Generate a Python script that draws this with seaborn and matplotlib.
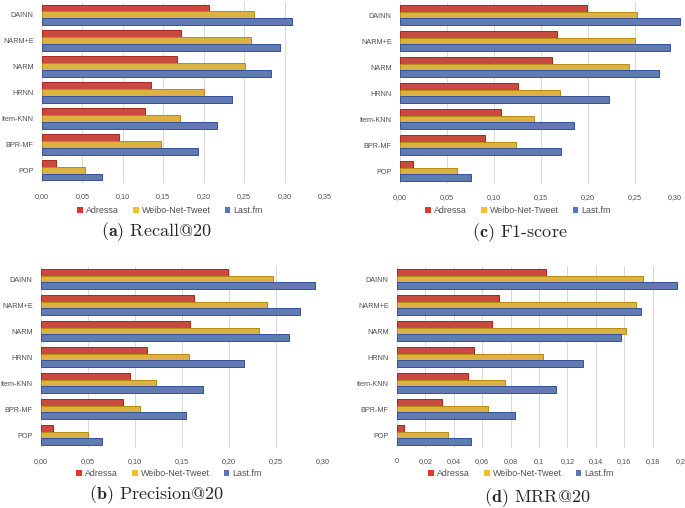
import pandas as pd
import matplotlib.pyplot as plt
import seaborn as sns
from matplotlib.patches import Patch
from matplotlib.ticker import FixedLocator

models = ['DAINN', 'NARM+E', 'NARM', 'HRNN', 'Item-KNN', 'BPR-MF', 'POP']
datasets = ['Adressa', 'Weibo-Net-Tweet', 'Last.fm']
colors = ['#E1362A', '#F5BF2A', '#5475BE']
edges = ['#A8261C', '#B88C12', '#34509A']

# values (model order as above)
recall_adressa = [0.207, 0.172, 0.167, 0.135, 0.128, 0.095, 0.017]
recall_weibo = [0.262, 0.258, 0.251, 0.200, 0.171, 0.147, 0.053]
recall_lastfm = [0.309, 0.294, 0.283, 0.235, 0.216, 0.193, 0.074]

precision_adressa = [0.199, 0.163, 0.158, 0.113, 0.095, 0.087, 0.013]
precision_weibo = [0.247, 0.240, 0.232, 0.157, 0.122, 0.105, 0.050]
precision_lastfm = [0.292, 0.276, 0.264, 0.216, 0.172, 0.154, 0.065]

f1_adressa = [0.199, 0.167, 0.162, 0.125, 0.107, 0.090, 0.014]
f1_weibo = [0.252, 0.250, 0.244, 0.170, 0.143, 0.123, 0.061]
f1_lastfm = [0.298, 0.287, 0.276, 0.222, 0.185, 0.171, 0.076]

mrr_adressa = [0.105, 0.072, 0.067, 0.054, 0.050, 0.032, 0.005]
mrr_weibo = [0.173, 0.168, 0.161, 0.103, 0.076, 0.064, 0.036]
mrr_lastfm = [0.197, 0.172, 0.158, 0.131, 0.112, 0.083, 0.052]

ticks_030 = [0, 0.05, 0.10, 0.15, 0.20, 0.25, 0.30]
labels_030 = ['0,00', '0,05', '0,10', '0,15', '0,20', '0,25', '0,30']
ticks_035 = ticks_030 + [0.35]
labels_035 = labels_030 + ['0,35']
ticks_mrr = [0, 0.02, 0.04, 0.06, 0.08, 0.1, 0.12, 0.14, 0.16, 0.18, 0.2]
labels_mrr = ['0', '0,02', '0,04', '0,06', '0,08', '0,1', '0,12', '0,14', '0,16', '0,18', '0,2']

W, H = 685, 508


def make_df(a, w, l):
    rows = []
    for vals, name in zip([a, w, l], datasets):
        for m, v in zip(models, vals):
            rows.append({'model': m, 'dataset': name, 'value': v})
    return pd.DataFrame(rows)


def panel(fig, box, df, ticks, labels, legend_c, caption, caption_c, last_right=False):
    left, right, top, bottom = box
    ax = fig.add_axes([left / W, 1 - bottom / H, (right - left) / W, (bottom - top) / H])
    sns.barplot(data=df, y='model', x='value', hue='dataset', order=models,
                hue_order=datasets, palette=colors, orient='h', width=0.8,
                gap=0, legend=False, ax=ax, zorder=3)
    for cont, ec in zip(ax.containers, edges):
        for bar in cont:
            bar.set_edgecolor(ec)
            bar.set_linewidth(0.7)
    ax.set_xlim(0, ticks[-1])
    ax.set_ylim(6.5, -0.5)
    ax.xaxis.set_major_locator(FixedLocator(ticks))
    ax.set_xticklabels(labels)
    if last_right:
        ax.get_xticklabels()[-1].set_horizontalalignment('right')
    ax.grid(axis='x', color='#D9D9D9', linewidth=0.7, zorder=0)
    ax.grid(axis='y', visible=False)
    for s in ax.spines.values():
        s.set_visible(False)
    ax.tick_params(axis='both', length=0, labelsize=5.2, labelcolor='#4F4F4F')
    ax.tick_params(axis='x', pad=7)
    ax.tick_params(axis='y', pad=6)
    ax.set_xlabel('')
    ax.set_ylabel('')
    handles = [Patch(facecolor=c, edgecolor='none') for c in colors]
    ax.legend(handles, datasets, loc='center', ncol=3, frameon=False,
              bbox_to_anchor=(legend_c[0] / W, 1 - legend_c[1] / H),
              bbox_transform=fig.transFigure, fontsize=6.4,
              handlelength=0.65, handleheight=0.65, handletextpad=0.3,
              columnspacing=1.6, labelcolor='#4F4F4F')
    fig.text(caption_c[0] / W, 1 - caption_c[1] / H, caption, ha='center',
             va='center', fontsize=13, family='cmr10')
    return ax


sns.set_style('white')
plt.rcParams['font.family'] = ['Liberation Sans', 'DejaVu Sans']
plt.rcParams['mathtext.fontset'] = 'cm'
plt.rcParams['axes.formatter.use_mathtext'] = True

fig = plt.figure(figsize=(6.85, 5.08), dpi=100)

panel(fig, (42, 325, 2, 183), make_df(recall_adressa, recall_weibo, recall_lastfm),
      ticks_035, labels_035, (170, 211), r'$\mathbf{(a)}$ Recall@20', (156, 232))
panel(fig, (400, 682, 2, 184), make_df(f1_adressa, f1_weibo, f1_lastfm),
      ticks_030, labels_030, (518, 211), r'$\mathbf{(c)}$ F1-score', (520, 233),
      last_right=True)
panel(fig, (41, 323, 266, 448), make_df(precision_adressa, precision_weibo, precision_lastfm),
      ticks_030, labels_030, (169, 474), r'$\mathbf{(b)}$ Precision@20', (157, 495))
panel(fig, (397, 681, 266, 448), make_df(mrr_adressa, mrr_weibo, mrr_lastfm),
      ticks_mrr, labels_mrr, (521, 474), r'$\mathbf{(d)}$ MRR@20', (537, 498))

fig.savefig('out.png', dpi=100)
